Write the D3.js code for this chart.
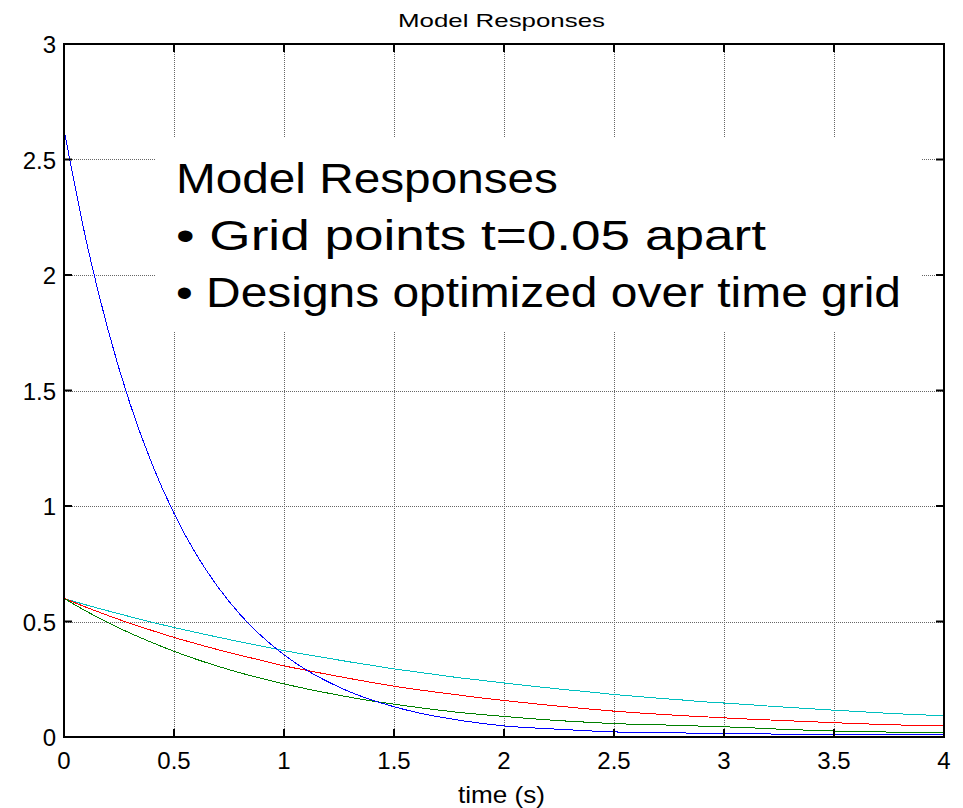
<!DOCTYPE html>
<html>
<head>
<meta charset="utf-8">
<script src="https://cdn.jsdelivr.net/npm/d3@7"></script>
<style>
  body { margin: 0; background: #fff; }
  text { font-family: "Liberation Sans", Arial, sans-serif; fill: #000; }
</style>
</head>
<body>
<div id="chart"></div>
<script>
// sample times, 0.1 s apart
var times = d3.range(41).map(function(i) { return i / 10; });

var blueVals = [2.63, 2.153, 1.763, 1.443, 1.182, 0.968, 0.792, 0.649, 0.531, 0.435,
    0.356, 0.291, 0.239, 0.195, 0.160, 0.131, 0.107, 0.088, 0.072, 0.059,
    0.048, 0.041, 0.036, 0.031, 0.026, 0.022, 0.020, 0.019, 0.018, 0.015,
    0.013, 0.013, 0.013, 0.012, 0.012, 0.012, 0.012, 0.012, 0.012, 0.012, 0.012];
var greenVals = [0.600, 0.545, 0.495, 0.450, 0.409, 0.371, 0.337, 0.306, 0.278, 0.253,
    0.230, 0.209, 0.190, 0.172, 0.156, 0.142, 0.129, 0.117, 0.106, 0.097,
    0.089, 0.081, 0.074, 0.068, 0.063, 0.058, 0.055, 0.053, 0.050, 0.047,
    0.044, 0.041, 0.036, 0.032, 0.029, 0.026, 0.023, 0.022, 0.021, 0.020, 0.019];
var redVals = [0.600, 0.562, 0.526, 0.492, 0.461, 0.431, 0.404, 0.378, 0.354, 0.331,
    0.308, 0.289, 0.271, 0.253, 0.236, 0.220, 0.206, 0.193, 0.181, 0.169,
    0.158, 0.148, 0.138, 0.129, 0.120, 0.112, 0.105, 0.099, 0.093, 0.088,
    0.083, 0.078, 0.074, 0.070, 0.066, 0.062, 0.058, 0.055, 0.052, 0.050, 0.048];
var cyanVals = [0.600, 0.572, 0.546, 0.521, 0.497, 0.474, 0.453, 0.432, 0.412, 0.393,
    0.374, 0.357, 0.341, 0.325, 0.310, 0.295, 0.282, 0.269, 0.256, 0.245,
    0.234, 0.223, 0.213, 0.203, 0.194, 0.184, 0.176, 0.168, 0.161, 0.153,
    0.147, 0.141, 0.134, 0.128, 0.122, 0.116, 0.111, 0.105, 0.100, 0.096, 0.092];

var seriesColors = ["#0000ff", "#008000", "#ff0000", "#00bfbf"];
var xTicks = [0, 0.5, 1, 1.5, 2, 2.5, 3, 3.5, 4];
var yTicks = [0, 0.5, 1, 1.5, 2, 2.5, 3];
var noteLines = ["Model Responses", "\u2022 Grid points t=0.05 apart", "\u2022 Designs optimized over time grid"];
var noteWidths = [382, 590, 725];

var width = 963, height = 808;
var margin = {left: 64, right: 19, top: 44, bottom: 71};

var svg = d3.select("#chart").append("svg")
    .attr("width", width)
    .attr("height", height);

var x = d3.scaleLinear().domain([0, 4]).range([margin.left, width - margin.right]);
var y = d3.scaleLinear().domain([0, 3]).range([height - margin.bottom, margin.top]);

// grid
svg.append("g").selectAll("line").data(xTicks.slice(1, -1)).enter().append("line")
    .attr("x1", function(d) { return Math.round(x(d)) + 0.5; })
    .attr("x2", function(d) { return Math.round(x(d)) + 0.5; })
    .attr("y1", y(0)).attr("y2", y(3))
    .attr("stroke", "#666").attr("stroke-width", 1).attr("stroke-dasharray", "1,1");
svg.append("g").selectAll("line").data(yTicks.slice(1, -1)).enter().append("line")
    .attr("y1", function(d) { return Math.round(y(d)) + 0.5; })
    .attr("y2", function(d) { return Math.round(y(d)) + 0.5; })
    .attr("x1", x(0)).attr("x2", x(4))
    .attr("stroke", "#666").attr("stroke-width", 1).attr("stroke-dasharray", "1,1");

// lines
var line = d3.line()
    .x(function(d, i) { return x(times[i]); })
    .y(function(d) { return y(d); })
    .curve(d3.curveMonotoneX);

var series = [cyanVals, redVals, greenVals, blueVals];
var cols = [seriesColors[3], seriesColors[2], seriesColors[1], seriesColors[0]];
svg.append("g").selectAll("path").data(series).enter().append("path")
    .attr("d", line)
    .attr("fill", "none")
    .attr("stroke", function(d, i) { return cols[i]; })
    .attr("stroke-width", 1)
    .attr("shape-rendering", "crispEdges");

// text box covering the grid
var boxX = 156, boxY = 137;
svg.append("rect")
    .attr("x", boxX).attr("y", boxY)
    .attr("width", 921 - boxX).attr("height", 331 - boxY)
    .attr("fill", "#fff");
svg.append("g").selectAll("text").data(noteLines).enter().append("text")
    .attr("x", 176)
    .attr("y", function(d, i) { return 193 + i * 57; })
    .attr("font-size", 43)
    .attr("textLength", function(d, i) { return noteWidths[i]; })
    .attr("lengthAdjust", "spacingAndGlyphs")
    .text(function(d) { return d; });

// box frame
svg.append("rect")
    .attr("x", x(0)).attr("y", y(3))
    .attr("width", x(4) - x(0)).attr("height", y(0) - y(3))
    .attr("fill", "none").attr("stroke", "#000").attr("stroke-width", 2);

// tick marks on all four sides
var tk = 8;
var tg = svg.append("g").attr("stroke", "#000").attr("stroke-width", 2);
xTicks.forEach(function(t) {
    tg.append("line").attr("x1", x(t)).attr("x2", x(t)).attr("y1", y(0)).attr("y2", y(0) - tk);
    tg.append("line").attr("x1", x(t)).attr("x2", x(t)).attr("y1", y(3)).attr("y2", y(3) + tk);
});
yTicks.forEach(function(t) {
    tg.append("line").attr("y1", y(t)).attr("y2", y(t)).attr("x1", x(0)).attr("x2", x(0) + tk);
    tg.append("line").attr("y1", y(t)).attr("y2", y(t)).attr("x1", x(4)).attr("x2", x(4) - tk);
});

// tick labels
svg.append("g").selectAll("text").data(xTicks).enter().append("text")
    .attr("x", function(d) { return x(d); })
    .attr("y", 769)
    .attr("text-anchor", "middle")
    .attr("font-size", 24)
    .text(function(d) { return d; });
svg.append("g").selectAll("text").data(yTicks).enter().append("text")
    .attr("x", 56)
    .attr("y", function(d) { return y(d) + 9; })
    .attr("text-anchor", "end")
    .attr("font-size", 24)
    .text(function(d) { return d; });

// titles
svg.append("text")
    .attr("x", 398).attr("y", 27)
    .attr("font-size", 19)
    .attr("textLength", 207).attr("lengthAdjust", "spacingAndGlyphs")
    .text("Model Responses");
svg.append("text")
    .attr("x", 458).attr("y", 803)
    .attr("font-size", 24)
    .attr("textLength", 87).attr("lengthAdjust", "spacingAndGlyphs")
    .text("time (s)");
</script>
</body>
</html>
